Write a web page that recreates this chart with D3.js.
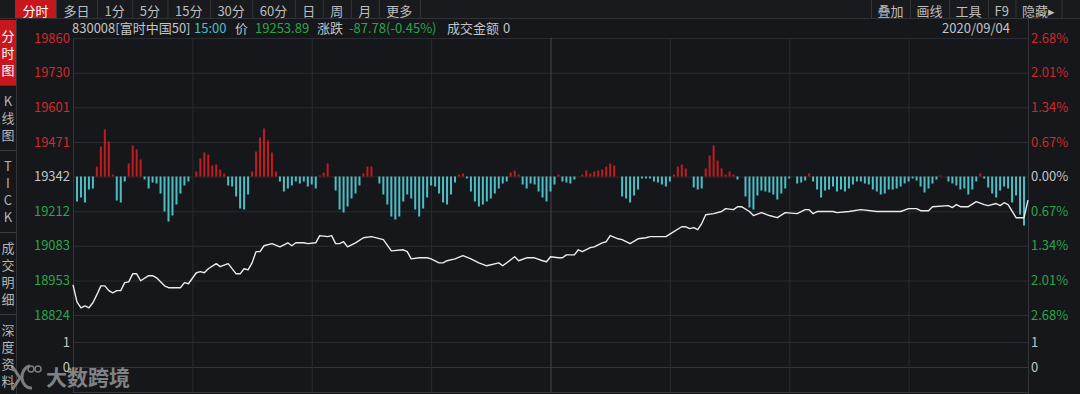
<!DOCTYPE html>
<html>
<head>
<meta charset="utf-8">
<script src="https://cdn.jsdelivr.net/npm/d3@7/dist/d3.min.js"></script>
<style>
  body { margin: 0; background: #15171b; }
  svg { display: block; font-family: "Microsoft YaHei", "Noto Sans CJK SC", sans-serif; }
</style>
</head>
<body>
<svg id="chart" width="1080" height="394"></svg>
<script>
// ---- data ----
const leftTabs = ["分时", "多日", "1分", "5分", "15分", "30分", "60分", "日", "周", "月", "更多"];
const rightTabs = ["叠加", "画线", "工具", "F9", "隐藏▸"];
const sideTabs = ["分时图", "K线图", "TICK", "成交明细", "深度资料"];

const prevClose = 19341.67;
const priceTicks = [19860, 19730, 19601, 19471, 19342, 19212, 19083, 18953, 18824];
const pctLabels = ["2.68%", "2.01%", "1.34%", "0.67%", "0.00%", "0.67%", "1.34%", "2.01%", "2.68%"];
const volTicks = [1, 0];

// minute index (0..240) and index level of the white line
const lineMinutes = [
  0, 1, 2, 3, 4, 5, 6, 7, 8, 9,
  10, 11, 12, 13, 14, 15, 16, 17, 19, 20,
  21, 23, 24, 27, 28, 29, 31, 32, 33, 34,
  36, 37, 39, 41, 42, 43, 44, 45, 46, 47,
  48, 50, 52, 54, 55, 56, 58, 59, 61, 62,
  64, 65, 66, 67, 68, 69, 71, 73, 75, 78,
  80, 83, 84, 85, 87, 89, 90, 92, 93, 94,
  96, 98, 100, 102, 104, 107, 108, 111, 112, 114,
  116, 118, 119, 120, 122, 123, 124, 126, 127, 128,
  130, 131, 133, 134, 135, 137, 138, 140, 142, 144,
  145, 149, 151, 153, 154, 155, 156, 157, 158, 159,
  161, 163, 164, 166, 167, 168, 170, 171, 173, 175,
  177, 179, 182, 184, 185, 186, 187, 191, 192, 195,
  198, 202, 208, 210, 212, 213, 215, 216, 220, 221,
  222, 223, 225, 227, 229, 230, 232, 233, 234, 235,
  237, 238, 239, 240
];
const linePrices = [
  18937, 18873, 18851, 18858, 18851, 18870, 18900, 18933, 18933, 18915,
  18907, 18915, 18915, 18945, 18948, 18978, 18978, 18952, 18971, 18971,
  18963, 18933, 18926, 18926, 18945, 18941, 18982, 18986, 18982, 18997,
  19016, 19005, 19016, 18978, 18978, 18997, 18993, 19019, 19061, 19061,
  19083, 19091, 19079, 19094, 19083, 19094, 19094, 19091, 19094, 19121,
  19117, 19121, 19091, 19091, 19098, 19079, 19094, 19113, 19117, 19106,
  19064, 19068, 19061, 19034, 19038, 19038, 19034, 19019, 19019, 19027,
  19034, 19046, 19034, 19019, 19008, 19019, 19008, 19042, 19027, 19038,
  19038, 19027, 19023, 19042, 19038, 19038, 19049, 19049, 19068, 19061,
  19076, 19079, 19094, 19098, 19121, 19109, 19106, 19091, 19109, 19113,
  19117, 19117, 19136, 19154, 19154, 19147, 19151, 19143, 19166, 19199,
  19203, 19211, 19222, 19218, 19229, 19229, 19211, 19196, 19207, 19196,
  19188, 19207, 19203, 19218, 19218, 19203, 19211, 19211, 19207, 19211,
  19218, 19211, 19211, 19222, 19222, 19214, 19214, 19229, 19233, 19226,
  19237, 19229, 19229, 19248, 19237, 19233, 19241, 19233, 19244, 19237,
  19188, 19188, 19188, 19254
];

// red / cyan bars, one per minute (index 0..240)
const barValues = [
  0, -25, -21, -26, -13, -12, 10, 30, 47, 35,
  2, -24, -26, -5, 13, 31, 27, 17, -3, -12,
  -6, -7, -17, -35, -45, -39, -28, -17, -9, -5,
  0, 5, 18, 24, 22, 11, 12, 7, 3, -9,
  -10, -20, -32, -33, -18, 5, 25, 39, 48, 36,
  24, 5, -5, -15, -12, -9, -5, -7, -5, -10,
  -8, -12, 1, 4, 13, 0, -14, -33, -36, -30,
  -22, -17, -9, 3, 10, 10, 0, -7, -18, -28,
  -40, -43, -40, -25, -18, -22, -33, -40, -32, -21,
  -9, -10, -17, -26, -28, -18, -6, 2, 3, -2,
  -15, -25, -30, -28, -25, -22, -17, -12, -7, -5,
  4, 6, 2, -8, -12, -7, -8, -15, -21, -25,
  -15, -8, 2, -5, -6, -7, -3, 0, 2, 6,
  3, 5, 6, 7, 10, 13, 11, 0, -20, -22,
  -26, -19, -13, -2, -2, -2, -5, -6, -8, -10,
  -5, 2, 10, 12, 8, 0, -11, -13, -12, 8,
  21, 31, 16, 8, 2, 5, 2, -3, 0, -20,
  -31, -33, -19, -14, -15, -16, -18, -23, -17, -12,
  -2, 0, -7, -6, -4, 3, -5, -13, -21, -14,
  -13, -10, -15, -13, -15, -12, -8, -5, -5, -7,
  -8, -13, -15, -18, -17, -13, -13, -12, -10, -7,
  -5, -2, -4, -10, -16, -12, -7, -3, 1, 0,
  -5, -7, -9, -13, -12, -18, -13, -5, 3, -2,
  -11, -17, -21, -14, -10, -12, -26, -19, -38, -49,
  0
];

// ---- colors ----
const RED = "#d0282c", GREEN = "#2aa548", GRAY = "#c4c4c4", CYAN = "#4cbfc6";
const BAR_RED = "#c21c1f";
const GRID = "#2a2c31";

const svg = d3.select("#chart");
const W = 1080, H = 394;
const plotLeft = 73, plotRight = 1028, plotTop = 38, plotBottom = 392;

svg.append("rect").attr("width", W).attr("height", H).attr("fill", "#15171b");

// scales
const x = d3.scaleLinear().domain([0, 240]).range([plotLeft, plotRight]);
const yPrice = d3.scaleLinear().domain([18824, 19860]).range([315, 38]);
const yVol = d3.scaleLinear().domain([0, 1]).range([367, 342]);
const base = yPrice(19342);
const yBar = d3.scaleLinear().domain([-50, 50]).range([base + 50, base - 50]);

// ---- grid ----
const grid = svg.append("g");
grid.append("g")
  .attr("transform", `translate(${plotLeft},0)`)
  .call(d3.axisLeft(yPrice).tickValues(priceTicks).tickSize(-(plotRight - plotLeft)).tickFormat(""))
  .call(g => g.select(".domain").remove());
grid.append("g")
  .attr("transform", `translate(${plotLeft},0)`)
  .call(d3.axisLeft(yVol).tickValues(volTicks).tickSize(-(plotRight - plotLeft)).tickFormat(""))
  .call(g => g.select(".domain").remove());
grid.append("g")
  .attr("transform", `translate(0,${plotBottom})`)
  .call(d3.axisBottom(x).tickValues(d3.range(0, 241, 30)).tickSize(-(plotBottom - plotTop)).tickFormat(""))
  .call(g => g.select(".domain").remove());
grid.selectAll("line").attr("stroke", GRID).attr("stroke-width", 1);
grid.selectAll(".tick").filter(d => d === 120).select("line").attr("stroke", "#45474c");
grid.selectAll(".tick").filter(d => d === 0 || d === 240).select("line").attr("stroke", "#33353a");

// frame lines
svg.append("line").attr("x1", plotRight + 0.5).attr("x2", plotRight + 0.5).attr("y1", 19).attr("y2", H)
  .attr("stroke", "#33353a");
svg.append("line").attr("x1", plotLeft).attr("x2", plotRight).attr("y1", plotBottom + 0.5).attr("y2", plotBottom + 0.5)
  .attr("stroke", "#33353a");

// ---- axes labels ----
function colorFor(i) { return i < 4 ? RED : (i === 4 ? GRAY : GREEN); }

const leftAxis = svg.append("g")
  .attr("transform", `translate(${plotLeft},0)`)
  .call(d3.axisLeft(yPrice).tickValues(priceTicks).tickSize(0).tickPadding(3).tickFormat(d => d));
leftAxis.select(".domain").remove();
leftAxis.selectAll("text").attr("fill", (d, i) => colorFor(i)).attr("font-size", 13)
  .attr("font-family", "\"Microsoft YaHei\", \"Noto Sans CJK SC\", sans-serif");

const rightAxis = svg.append("g")
  .attr("transform", `translate(${plotRight},0)`)
  .call(d3.axisRight(yPrice).tickValues(priceTicks).tickSize(0).tickPadding(3).tickFormat((d, i) => pctLabels[i]));
rightAxis.select(".domain").remove();
rightAxis.selectAll("text").attr("fill", (d, i) => colorFor(i)).attr("font-size", 13)
  .attr("font-family", "\"Microsoft YaHei\", \"Noto Sans CJK SC\", sans-serif");

[["left", d3.axisLeft, plotLeft], ["right", d3.axisRight, plotRight]].forEach(([k, ax, px]) => {
  const g = svg.append("g").attr("transform", `translate(${px},0)`)
    .call(ax(yVol).tickValues(volTicks).tickSize(0).tickPadding(3).tickFormat(d3.format("d")));
  g.select(".domain").remove();
  g.selectAll("text").attr("fill", GRAY).attr("font-size", 13)
    .attr("font-family", "\"Microsoft YaHei\", \"Noto Sans CJK SC\", sans-serif");
});

// ---- bars ----
svg.append("g").selectAll("rect")
  .data(barValues.map((v, i) => ({ i, v })).filter(d => d.v !== 0))
  .enter().append("rect")
  .attr("x", d => x(d.i) - 1)
  .attr("width", 2)
  .attr("y", d => Math.min(yBar(d.v), yBar(0)))
  .attr("height", d => Math.abs(yBar(d.v) - yBar(0)))
  .attr("fill", d => d.v > 0 ? BAR_RED : CYAN);

// ---- price line ----
const pts = lineMinutes.map((m, i) => [m, linePrices[i]]);
svg.append("path")
  .datum(pts)
  .attr("fill", "none")
  .attr("stroke", "#ececec")
  .attr("stroke-width", 1.4)
  .attr("stroke-linejoin", "round")
  .attr("d", d3.line().x(d => x(d[0])).y(d => yPrice(d[1])));

// ---- top toolbar ----
svg.append("rect").attr("width", W).attr("height", 19).attr("fill", "#191a1e");
svg.append("line").attr("x1", 0).attr("x2", W).attr("y1", 18.5).attr("y2", 18.5).attr("stroke", "#303236");

const tb = svg.append("g").attr("font-size", 13);
let tx = 15;
leftTabs.forEach((t, i) => {
  const txt = tb.append("text").attr("y", 10).attr("dominant-baseline", "central").text(t);
  const w = txt.node().getComputedTextLength() + 15;
  if (i === 0) {
    tb.insert("rect", "text").attr("x", tx).attr("y", 0).attr("width", w).attr("height", 18).attr("fill", "#c8161d");
  }
  txt.attr("x", tx + w / 2).attr("text-anchor", "middle").attr("fill", i === 0 ? "#ffffff" : "#bdbdbd");
  tx += w;
  tb.append("line").attr("x1", tx + 0.5).attr("x2", tx + 0.5).attr("y1", 0).attr("y2", 18).attr("stroke", "#34363a");
});
tx = 871;
tb.append("line").attr("x1", tx + 0.5).attr("x2", tx + 0.5).attr("y1", 0).attr("y2", 18).attr("stroke", "#34363a");
rightTabs.forEach((t) => {
  const txt = tb.append("text").attr("y", 10).attr("dominant-baseline", "central").text(t);
  const w = txt.node().getComputedTextLength() + 13;
  txt.attr("x", tx + w / 2).attr("text-anchor", "middle").attr("fill", "#bdbdbd");
  tx += w;
  tb.append("line").attr("x1", tx + 0.5).attr("x2", tx + 0.5).attr("y1", 0).attr("y2", 18).attr("stroke", "#34363a");
});

// ---- info line ----
const info = [
  ["830008[富时中国50]", GRAY, 72],
  ["15:00", CYAN, 194],
  ["价", GRAY, 235],
  ["19253.89", GREEN, 255],
  ["涨跌", GRAY, 317],
  ["-87.78(-0.45%)", GREEN, 349],
  ["成交金额", GRAY, 447],
  ["0", GRAY, 503]
];
svg.append("g").attr("font-size", 13).selectAll("text").data(info).enter().append("text")
  .attr("x", d => d[2]).attr("y", 33).attr("fill", d => d[1]).text(d => d[0]);
svg.append("text").attr("x", 1010).attr("y", 33).attr("text-anchor", "end")
  .attr("font-size", 13).attr("fill", GRAY).text("2020/09/04");

// ---- side tabs ----
const side = svg.append("g").attr("font-size", 13);
side.append("line").attr("x1", 16.5).attr("x2", 16.5).attr("y1", 19).attr("y2", H).attr("stroke", "#303236");
let sy = 20;
sideTabs.forEach((t, i) => {
  const chars = Array.from(t);
  const h = chars.length * 17 + 14;
  if (i === 0) side.append("rect").attr("x", 0).attr("y", sy).attr("width", 16).attr("height", h).attr("fill", "#c8161d");
  chars.forEach((c, k) => {
    side.append("text").attr("x", 8).attr("y", sy + 7 + 17 * (k + 0.5))
      .attr("text-anchor", "middle").attr("dominant-baseline", "central")
      .attr("fill", i === 0 ? "#ffffff" : "#b4b4b4").text(c);
  });
  sy += h;
  side.append("line").attr("x1", 0).attr("x2", 16).attr("y1", sy + 0.5).attr("y2", sy + 0.5).attr("stroke", "#3a3c40");
});

// ---- watermark ----
const wm = svg.append("g").attr("fill", "none").attr("stroke", "#bfbfbf").attr("opacity", 0.6);
wm.append("path").attr("d", "M12,366 L20,378 L12,390 M30,366 A9,11 0 1 0 32,388").attr("stroke-width", 3);
wm.append("circle").attr("cx", 31).attr("cy", 369).attr("r", 3).attr("stroke-width", 1.5);
wm.append("circle").attr("cx", 38).attr("cy", 369).attr("r", 3).attr("stroke-width", 1.5);
svg.append("text").attr("x", 46).attr("y", 385).attr("font-size", 21).attr("font-weight", 700)
  .attr("fill", "#c8c8c8").attr("opacity", 0.6).text("大数跨境");
</script>
</body>
</html>
